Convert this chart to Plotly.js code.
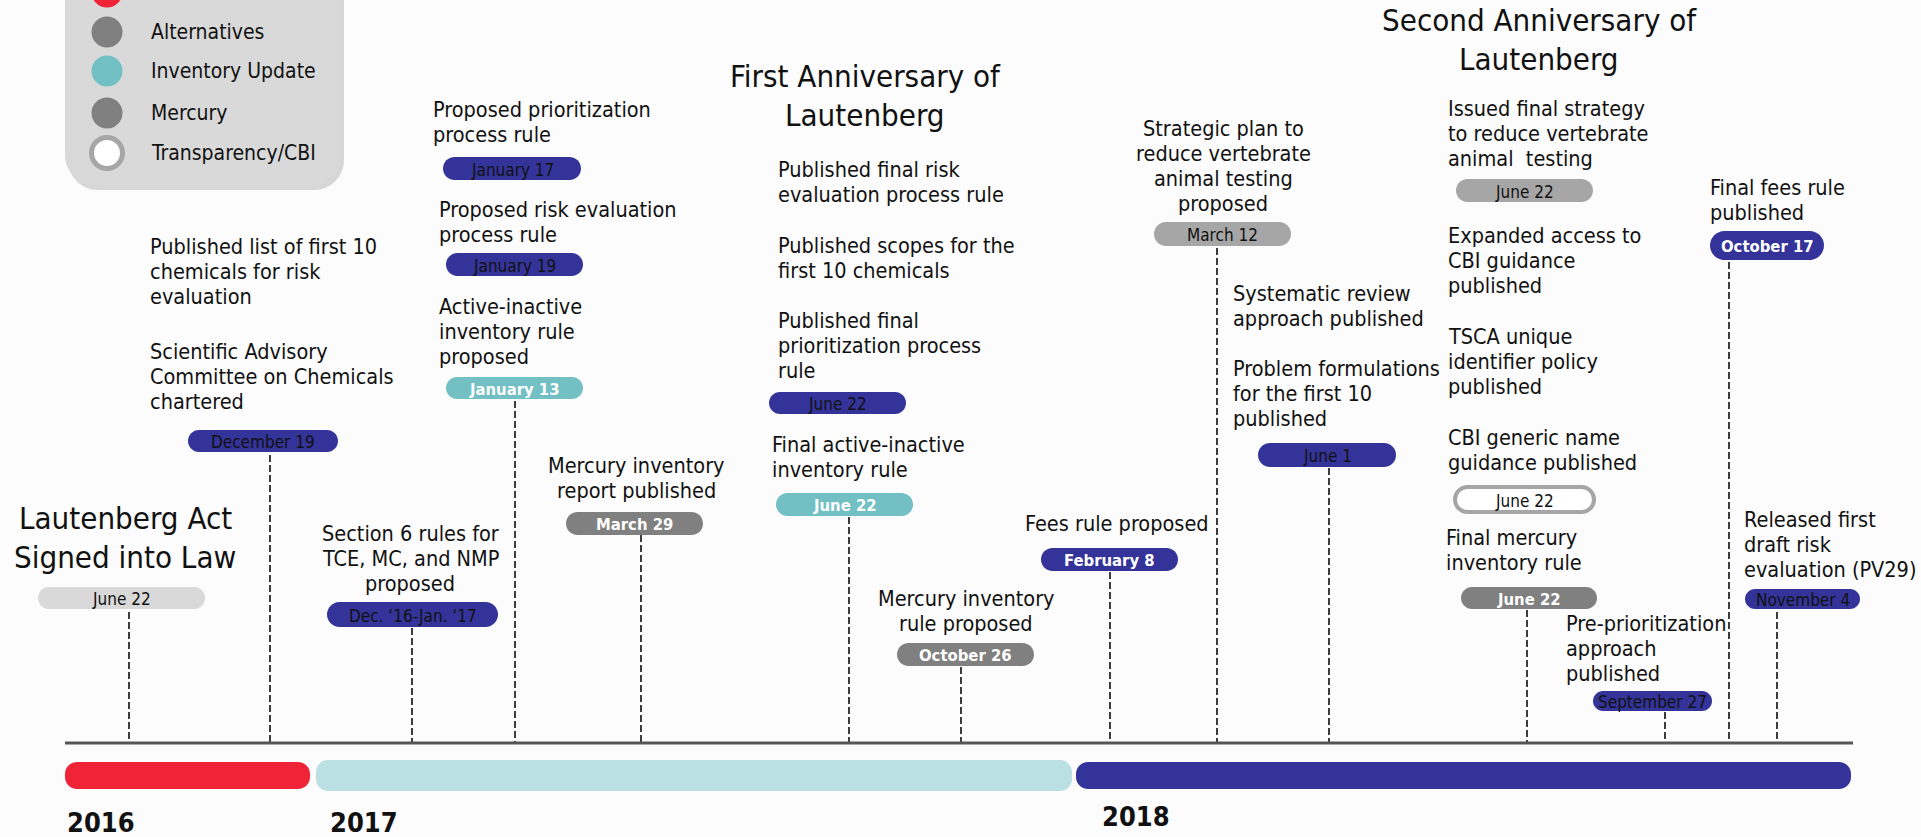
<!DOCTYPE html>
<html>
<head>
<meta charset="utf-8">
<script src="https://cdn.plot.ly/plotly-3.0.1.min.js"></script>
<style>html,body{margin:0;padding:0;background:#fcfcfc;}#chart{width:1921px;height:837px;}</style>
</head>
<body>
<div id="chart"></div>
<script>
// ---------------- DATA ----------------
// Timeline years
const years = ["2016", "2017", "2018"];
const yearColors = ["#ef2537", "#bbe0e3", "#333399"];

// Legend categories
const legendLabels = ["Lautenberg", "Alternatives", "Inventory Update", "Mercury", "Transparency/CBI"];
const legendColors = ["#ef2537", "#808080", "#72c0c4", "#808080", "#ffffff"];

// Milestone titles
const milestoneTitles = [
  ["Lautenberg Act", "Signed into Law"],
  ["First Anniversary of", "Lautenberg"],
  ["Second Anniversary of", "Lautenberg"]
];

// Event date pills (label and program category)
const pillDates = ["June 22", "December 19", "Dec. \u201816-Jan. \u201817", "January 17", "January 19",
  "January 13", "March 29", "June 22", "June 22", "October 26", "February 8", "March 12",
  "June 1", "June 22", "June 22", "June 22", "September 27", "October 17", "November 4"];
const pillKinds = ["signed", "risk", "risk", "risk", "risk",
  "inventory", "mercury", "risk", "inventory", "mercury", "riskBold", "alternatives",
  "risk", "alternatives", "cbi", "mercury", "risk", "riskBold", "risk"];

// Event descriptions
const leftTexts = [
  ["Published list of first 10", "chemicals for risk", "evaluation"],
  ["Scientific Advisory", "Committee on Chemicals", "chartered"],
  ["Proposed prioritization", "process rule"],
  ["Proposed risk evaluation", "process rule"],
  ["Active-inactive", "inventory rule", "proposed"],
  ["Published final risk", "evaluation process rule"],
  ["Published scopes for the", "first 10 chemicals"],
  ["Published final", "prioritization process", "rule"],
  ["Final active-inactive", "inventory rule"],
  ["Fees rule proposed"],
  ["Systematic review", "approach published"],
  ["Problem formulations", "for the first 10", "published"],
  ["Issued final strategy", "to reduce vertebrate", "animal\u00a0 testing"],
  ["Expanded access to", "CBI guidance", "published"],
  ["TSCA unique", "identifier policy", "published"],
  ["CBI generic name", "guidance published"],
  ["Final mercury", "inventory rule"],
  ["Pre-prioritization", "approach", "published"],
  ["Final fees rule", "published"],
  ["Released first", "draft risk", "evaluation (PV29)"]
];
const centerTexts = [
  ["Section 6 rules for", "TCE, MC, and NMP", "proposed"],
  ["Mercury inventory", "report published"],
  ["Mercury inventory", "rule proposed"],
  ["Strategic plan to", "reduce vertebrate", "animal testing", "proposed"]
];

// ---------------- LAYOUT POSITIONS ----------------
const W = 1921, H = 837;
const axisY = 743, axisX0 = 65, axisX1 = 1853;
const yearBarX = [[65, 310], [316, 1072], [1076, 1851]];
const yearBarY = [[762, 789], [760, 791], [762, 789]];
const yearLabelPos = [[65, 822], [328, 822], [1100, 816]];

const titlePos = [[125, 518], [865, 76], [1539, 20]];

const pillBox = [
  [38, 205, 587, 609], [188, 338, 430, 452], [327, 498, 602, 627], [443, 581, 157, 180],
  [446, 583, 253, 276], [446, 583, 377, 399], [566, 703, 512, 535], [769, 906, 392, 414],
  [776, 913, 493, 516], [897, 1034, 643, 666], [1041, 1178, 548, 571], [1154, 1291, 222, 246],
  [1258, 1396, 443, 467], [1456, 1593, 179, 202], [1455, 1594, 487, 512], [1461, 1597, 587, 609],
  [1593, 1712, 691, 711], [1710, 1824, 231, 260], [1745, 1860, 589, 609]
];
const stemX = [129, 270, 412, 515, 641, 849, 961, 1110, 1217, 1329, 1527, 1665, 1729, 1777];
const stemTop = [612, 455, 628, 401, 535, 517, 667, 572, 248, 468, 610, 712, 262, 612];

const leftTextPos = [
  [150, 246], [150, 351], [433, 109], [439, 209], [439, 306], [778, 169], [778, 245],
  [778, 320], [772, 444], [1025, 523], [1233, 293], [1233, 368], [1448, 108], [1448, 235],
  [1448, 336], [1448, 437], [1446, 537], [1566, 623], [1710, 187], [1744, 519]
];
const centerTextPos = [[410, 533], [636, 465], [966, 598], [1223, 128]];

const legendBox = [65, 340, -60, 185];
const legendCx = 107, legendLabelX = 149;
const legendRowY = [-8, 32, 71, 113, 153];

// ---------------- STYLES ----------------
const FONT = "DejaVu Sans Condensed, DejaVu Sans, sans-serif";
const kindStyle = {
  signed: {fill: "#d9d9d9", line: null, color: "#111", bold: false},
  risk: {fill: "#333399", line: null, color: "#111", bold: false},
  riskBold: {fill: "#333399", line: null, color: "#ffffff", bold: true},
  inventory: {fill: "#72c0c4", line: null, color: "#ffffff", bold: true},
  mercury: {fill: "#808080", line: null, color: "#ffffff", bold: true},
  alternatives: {fill: "#a6a6a6", line: null, color: "#111", bold: false},
  cbi: {fill: "#ffffff", line: "#a6a6a6", color: "#111", bold: false}
};

function roundRect(x0, x1, y0, y1, r) {
  const k = 0.5523 * r;
  return `M${x0 + r},${y0} L${x1 - r},${y0} ` +
    `C${x1 - r + k},${y0} ${x1},${y0 + r - k} ${x1},${y0 + r} ` +
    `L${x1},${y1 - r} ` +
    `C${x1},${y1 - r + k} ${x1 - r + k},${y1} ${x1 - r},${y1} ` +
    `L${x0 + r},${y1} ` +
    `C${x0 + r - k},${y1} ${x0},${y1 - r + k} ${x0},${y1 - r} ` +
    `L${x0},${y0 + r} ` +
    `C${x0},${y0 + r - k} ${x0 + r - k},${y0} ${x0 + r},${y0} Z`;
}

const shapes = [];
const annotations = [];
const traces = [];

// Legend box with shadow
shapes.push({type: "path", xref: "x", yref: "y", layer: "below",
  path: roundRect(legendBox[0] + 3, legendBox[1] + 4, legendBox[2], legendBox[3] + 5, 30),
  fillcolor: "#c8c8c8", line: {width: 0}, opacity: 0.7});
shapes.push({type: "path", xref: "x", yref: "y", layer: "below",
  path: roundRect(legendBox[0], legendBox[1], legendBox[2], legendBox[3], 30),
  fillcolor: "#d9d9d9", line: {width: 0}});

// Legend swatches (filled and ring)
traces.push({type: "scatter", mode: "markers", hoverinfo: "skip",
  x: legendLabels.slice(0, 4).map(() => legendCx), y: legendRowY.slice(0, 4),
  marker: {size: 31, opacity: 1, color: legendColors.slice(0, 4), line: {width: 0}}});
traces.push({type: "scatter", mode: "markers", hoverinfo: "skip",
  x: [legendCx], y: [legendRowY[4]],
  marker: {size: 31, opacity: 1, color: legendColors[4], line: {color: "#a6a6a6", width: 5}}});
legendLabels.forEach((lab, i) => {
  annotations.push({xref: "x", yref: "y", x: legendLabelX, y: legendRowY[i], text: lab,
    showarrow: false, xanchor: "left", yanchor: "middle",
    font: {family: FONT, size: 21, color: "#111"}});
});

// Year bars
years.forEach((yr, i) => {
  const [x0, x1] = yearBarX[i], [y0, y1] = yearBarY[i];
  shapes.push({type: "path", xref: "x", yref: "y", layer: "below",
    path: roundRect(x0, x1, y0, y1, 12), fillcolor: yearColors[i], line: {width: 0}});
  annotations.push({xref: "x", yref: "y", x: yearLabelPos[i][0], y: yearLabelPos[i][1],
    text: "<b>" + yr + "</b>", showarrow: false, xanchor: "left", yanchor: "middle",
    font: {family: FONT, size: 27, color: "#111"}});
});

// Dashed stems
const sx = [], sy = [];
stemX.forEach((x, i) => { sx.push(x, x, null); sy.push(stemTop[i], axisY, null); });
traces.push({type: "scatter", mode: "lines", x: sx, y: sy, hoverinfo: "skip",
  line: {color: "#3c3c3c", width: 2, dash: "7px,3px"}});

// Axis line
traces.push({type: "scatter", mode: "lines", x: [axisX0, axisX1], y: [axisY, axisY],
  hoverinfo: "skip", line: {color: "#555555", width: 3}});

// Pills
pillDates.forEach((d, i) => {
  const [x0, x1, y0, y1] = pillBox[i];
  const st = kindStyle[pillKinds[i]];
  const r = (y1 - y0) / 2;
  shapes.push({type: "path", xref: "x", yref: "y", layer: "above",
    path: roundRect(x0, x1, y0, y1, r), fillcolor: st.fill,
    line: st.line ? {color: st.line, width: 4} : {width: 0}});
  annotations.push({xref: "x", yref: "y", x: (x0 + x1) / 2, y: (y0 + y1) / 2 + 1,
    text: st.bold ? "<b>" + d + "</b>" : d, showarrow: false, xanchor: "center", yanchor: "middle",
    font: {family: FONT, size: st.bold ? 16.5 : 17, color: st.color}});
});

// Text blocks
function addLines(lines, x, y, anchor, size, spacing) {
  lines.forEach((ln, j) => {
    annotations.push({xref: "x", yref: "y", x: x, y: y + j * spacing, text: ln,
      showarrow: false, xanchor: anchor, yanchor: "middle",
      font: {family: FONT, size: size, color: "#111"}});
  });
}
milestoneTitles.forEach((t, i) => addLines(t, titlePos[i][0], titlePos[i][1], "center", 31, 39));
leftTexts.forEach((t, i) => addLines(t, leftTextPos[i][0] - 2, leftTextPos[i][1], "left", 21.5, 25.3));
centerTexts.forEach((t, i) => addLines(t, centerTextPos[i][0], centerTextPos[i][1], "center", 21.5, 25.3));

const layout = {
  width: W, height: H, margin: {l: 0, r: 0, t: 0, b: 0, pad: 0},
  paper_bgcolor: "#fcfcfc", plot_bgcolor: "#fcfcfc", showlegend: false,
  xaxis: {range: [0, W], visible: false, fixedrange: true},
  yaxis: {range: [H, 0], visible: false, fixedrange: true},
  shapes: shapes, annotations: annotations
};
Plotly.newPlot("chart", traces, layout, {displayModeBar: false, staticPlot: true});
</script>
</body>
</html>
